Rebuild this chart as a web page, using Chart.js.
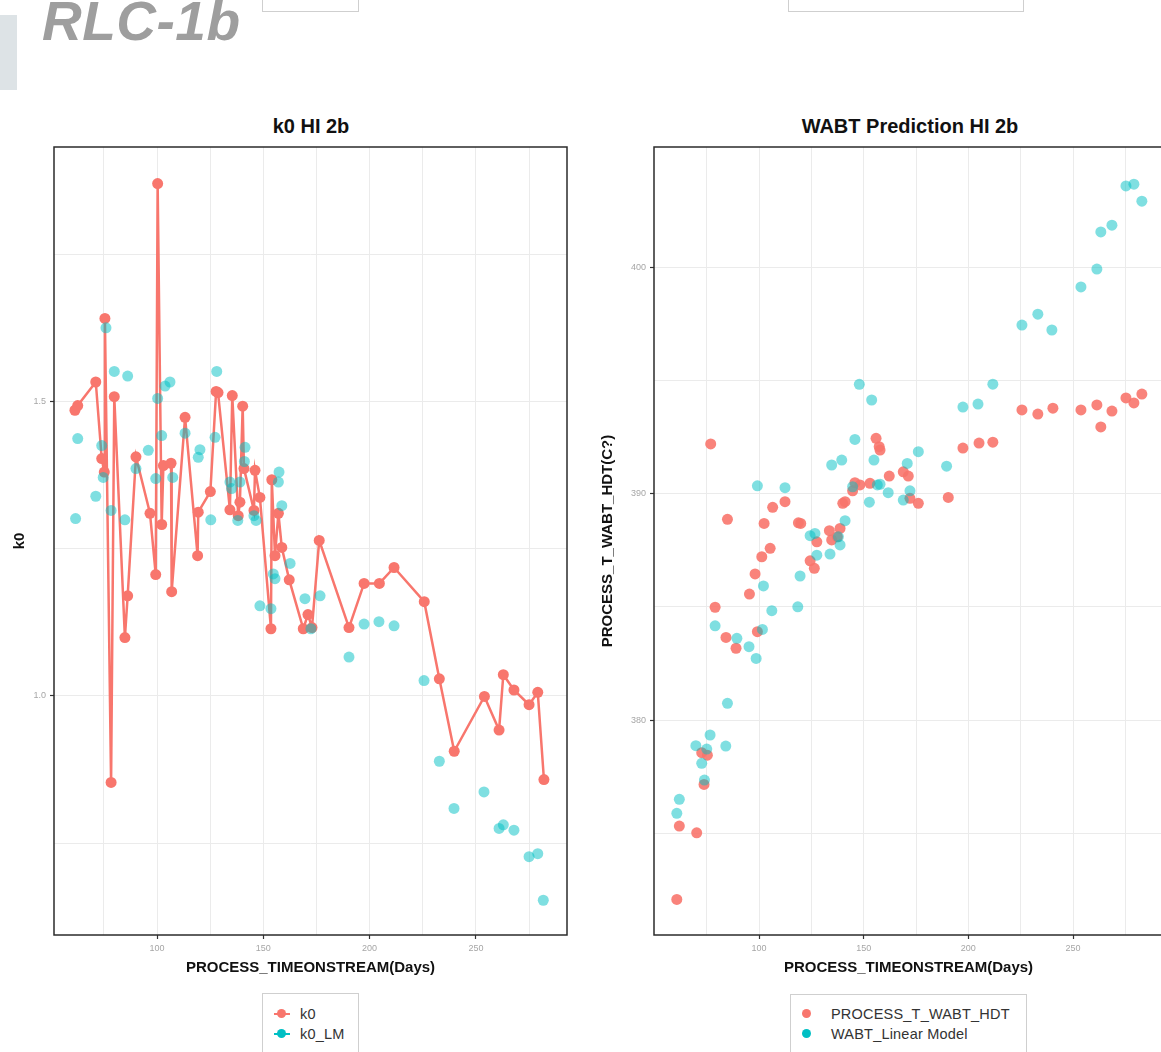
<!DOCTYPE html>
<html>
<head>
<meta charset="utf-8">
<script src="https://cdn.jsdelivr.net/npm/chart.js@4.4.0/dist/chart.umd.min.js"></script>
<style>
  html, body { margin: 0; padding: 0; background: #fff; overflow: hidden; width: 1161px; height: 1052px; }
  body { position: relative; font-family: "Liberation Sans", Arial, sans-serif; }
  .abs { position: absolute; }
  #head { left: 42px; top: -7px; font-size: 55px; line-height: 56px; font-weight: bold; font-style: italic; color: #9e9e9e; white-space: nowrap; letter-spacing: 0.5px; }
  #bar { left: 0; top: 15px; width: 17px; height: 75px; background: #dde3e6; }
  .box { border: 1px solid #cfcfcf; background: #fff; }
  .ttl { top: 115px; font-size: 20px; font-weight: bold; color: #111; text-align: center; white-space: nowrap; }
  .lg-text { font-size: 14.5px; color: #333; white-space: nowrap; line-height: 16px; letter-spacing: 0.2px; }
  .lg-line { height: 2px; width: 16px; }
  .lg-dot { width: 9px; height: 9px; border-radius: 50%; }
  canvas { position: absolute; }
</style>
</head>
<body>
<div id="bar" class="abs"></div>
<div id="head" class="abs">RLC-1b</div>
<div class="abs box" style="left:262px;top:-20px;width:95px;height:30px"></div>
<div class="abs box" style="left:788px;top:-20px;width:234px;height:30px"></div>

<div class="abs ttl" style="left:211px;width:200px">k0 HI 2b</div>
<div class="abs ttl" style="left:760px;width:300px">WABT Prediction HI 2b</div>

<canvas id="k0Chart" width="580" height="880" style="left:0;top:110px"></canvas>
<canvas id="wabtChart" width="590" height="880" style="left:590px;top:110px"></canvas>

<div class="abs box" style="left:262px;top:993px;width:95px;height:80px"></div>
<div class="abs lg-line" style="left:274px;top:1013px;background:#F8766D"></div>
<div class="abs lg-dot" style="left:277px;top:1009px;background:#F8766D"></div>
<div class="abs lg-text" style="left:300px;top:1006px">k0</div>
<div class="abs lg-line" style="left:274px;top:1033px;background:#00BFC4"></div>
<div class="abs lg-dot" style="left:277px;top:1029px;background:#00BFC4"></div>
<div class="abs lg-text" style="left:300px;top:1026px">k0_LM</div>

<div class="abs box" style="left:790px;top:994px;width:235px;height:80px"></div>
<div class="abs lg-dot" style="left:802px;top:1009px;background:#F8766D"></div>
<div class="abs lg-text" style="left:831px;top:1006px">PROCESS_T_WABT_HDT</div>
<div class="abs lg-dot" style="left:802px;top:1029px;background:#00BFC4"></div>
<div class="abs lg-text" style="left:831px;top:1026px">WABT_Linear Model</div>

<script>
// k0 HI 2b (red line)
const k0Days = [61.4, 62.7, 71.2, 74.0, 75.2, 75.5, 78.4, 79.9, 84.9, 86.2, 90.1, 96.7, 99.4, 100.3, 102.2, 103.0,
  106.6, 106.9, 113.2, 119.1, 119.4, 125.1, 127.8, 128.7, 134.3, 135.4, 138.2, 139.0, 140.3, 140.9, 145.6, 146.1,
  148.4, 153.6, 154.0, 155.5, 157.1, 158.7, 162.2, 168.8, 171.0, 172.9, 176.3, 190.3, 197.4, 204.6, 211.5, 225.7,
  232.8, 239.8, 254.0, 260.9, 262.9, 267.9, 275.0, 279.1, 282.0];
const k0Values = [1.485, 1.493, 1.533, 1.403, 1.380, 1.641, 0.853, 1.508, 1.099, 1.170, 1.406, 1.310, 1.206, 1.870, 1.291, 1.391,
  1.395, 1.177, 1.473, 1.238, 1.312, 1.347, 1.517, 1.515, 1.316, 1.510, 1.306, 1.329, 1.492, 1.386, 1.315, 1.383,
  1.337, 1.114, 1.367, 1.238, 1.310, 1.252, 1.197, 1.114, 1.138, 1.116, 1.264, 1.116, 1.191, 1.191, 1.218, 1.160,
  1.029, 0.906, 0.999, 0.942, 1.036, 1.010, 0.985, 1.006, 0.858];

// k0_LM (teal points)
const k0LmDays = [61.7, 62.7, 71.2, 74.0, 74.7, 76.0, 78.4, 79.9, 84.9, 86.2, 90.1, 95.9, 99.4, 100.3, 102.2, 103.8,
  106.1, 107.4, 113.2, 120.2, 119.4, 125.3, 127.3, 128.1, 134.3, 135.1, 138.0, 139.0, 141.4, 141.1, 145.6, 146.6,
  148.4, 153.6, 157.4, 157.1, 158.7, 154.7, 155.5, 162.6, 169.6, 172.4, 176.7, 190.3, 197.4, 204.4, 211.5, 225.6,
  232.8, 239.7, 253.8, 260.9, 262.9, 267.9, 275.0, 279.1, 281.7];
const k0LmValues = [1.301, 1.437, 1.339, 1.425, 1.371, 1.625, 1.315, 1.551, 1.299, 1.543, 1.386, 1.417, 1.369, 1.505, 1.442, 1.526,
  1.533, 1.371, 1.446, 1.418, 1.405, 1.299, 1.439, 1.551, 1.363, 1.352, 1.298, 1.363, 1.422, 1.398, 1.306, 1.298,
  1.153, 1.148, 1.380, 1.363, 1.323, 1.207, 1.199, 1.225, 1.165, 1.114, 1.170, 1.066, 1.122, 1.126, 1.119, 1.026,
  0.889, 0.809, 0.837, 0.775, 0.781, 0.772, 0.727, 0.732, 0.653];

// WABT Prediction HI 2b: measured (red)
const wabtDays = [60.7, 61.9, 70.2, 72.6, 75.3, 73.7, 76.9, 79.0, 84.2, 84.9, 89.0, 95.4, 98.1, 99.2, 101.3, 102.4,
  105.3, 106.5, 112.4, 118.8, 119.9, 124.4, 126.4, 127.6, 133.6, 134.7, 137.4, 138.7, 140.0, 141.1, 144.7, 145.8,
  148.2, 153.0, 155.9, 157.4, 157.8, 162.2, 168.9, 171.3, 172.1, 176.1, 190.4, 197.4, 205.1, 211.7, 225.6, 233.2,
  240.4, 253.8, 261.4, 263.3, 268.6, 275.3, 279.1, 282.9];
const wabtValues = [372.08, 375.32, 375.02, 378.56, 378.45, 377.16, 392.19, 384.98, 383.65, 388.86, 383.17, 385.56, 386.45, 383.90, 387.21, 388.68,
  387.58, 389.39, 389.64, 388.71, 388.68, 387.03, 386.70, 387.87, 388.36, 387.95, 388.09, 388.46, 389.57, 389.64, 390.12, 390.48,
  390.38, 390.45, 392.44, 392.07, 391.92, 390.77, 390.96, 390.77, 389.79, 389.57, 389.83, 392.01, 392.23, 392.27, 393.69, 393.51,
  393.77, 393.69, 393.91, 392.94, 393.64, 394.22, 394.00, 394.39];

// WABT_Linear Model (teal)
const wabtLmDays = [60.7, 61.9, 69.8, 72.6, 73.9, 75.0, 76.6, 79.0, 84.1, 84.9, 89.4, 95.2, 98.6, 99.2, 101.6, 102.1,
  106.1, 112.4, 118.5, 119.6, 124.4, 126.7, 127.6, 133.9, 137.9, 138.7, 141.1, 134.7, 139.5, 144.7, 145.8, 147.9,
  152.7, 153.8, 154.9, 156.5, 157.8, 161.7, 168.9, 170.8, 172.1, 176.1, 189.6, 197.4, 204.6, 211.7, 225.6, 233.2,
  239.9, 253.8, 261.4, 263.3, 268.6, 275.3, 279.1, 282.9];
const wabtLmValues = [375.88, 376.50, 378.87, 378.09, 377.35, 378.72, 379.34, 384.16, 378.85, 380.74, 383.61, 383.24, 382.72, 390.34, 384.00, 385.92,
  384.83, 390.26, 385.00, 386.36, 388.14, 388.24, 387.28, 387.33, 388.09, 387.73, 388.80, 391.26, 391.48, 390.30, 392.39, 394.82,
  389.62, 394.13, 391.48, 390.38, 390.41, 390.04, 389.71, 391.33, 390.12, 391.85, 391.21, 393.82, 393.95, 394.83, 397.44, 397.92,
  397.22, 399.12, 399.91, 401.55, 401.85, 403.58, 403.66, 402.91];

// ticks: gridlines at every value, labels only on the major ones
const dayTicks = [75, 100, 125, 150, 175, 200, 225, 250, 275];
const dayLabels = [100, 150, 200, 250];
const k0Ticks = [0.75, 1.0, 1.25, 1.5, 1.75];
const k0Labels = [1.0, 1.5];
const wabtTicks = [375, 380, 385, 390, 395, 400];
const wabtLabels = [380, 390, 400];

const FONT = "'Liberation Sans', Arial, sans-serif";
const RED = "#F8766D";
const TEAL = "rgba(0, 191, 196, 0.5)";

const pts = (xs, ys) => xs.map((x, i) => ({ x, y: ys[i] }));

// panel border like ggplot theme_bw
const framePlugin = {
  id: "frame",
  afterDatasetsDraw(chart) {
    const a = chart.chartArea;
    const ctx = chart.ctx;
    ctx.save();
    ctx.strokeStyle = "#2b2b2b";
    ctx.lineWidth = 1.5;
    ctx.strokeRect(a.left, a.top, a.right - a.left, a.bottom - a.top);
    ctx.restore();
  }
};

function scale(tickValues, labelValues, fmt, title, min, max, size, titlePad) {
  return {
    type: "linear",
    min: min,
    max: max,
    afterBuildTicks: s => { s.ticks = tickValues.map(v => ({ value: v })); },
    afterFit: s => { if (s.isHorizontal()) s.height = size; else s.width = size; },
    border: { display: false },
    grid: {
      color: "#ebebeb",
      lineWidth: 1,
      tickLength: 4,
      tickWidth: 1.2,
      tickColor: c => (c.tick && labelValues.includes(c.tick.value)) ? "#333" : "rgba(0,0,0,0)"
    },
    ticks: {
      autoSkip: false,
      maxRotation: 0,
      padding: 4,
      color: "#a6a6a6",
      font: { size: 9, family: FONT },
      callback: v => labelValues.includes(v) ? fmt(v) : ""
    },
    title: {
      display: true,
      text: title,
      color: "#111",
      font: { size: 15, weight: "bold", family: FONT },
      padding: titlePad
    }
  };
}

function baseOptions(xScale, yScale, padRight) {
  return {
    responsive: false,
    animation: false,
    layout: { padding: { left: 0, right: padRight, top: 37, bottom: 0 } },
    plugins: { legend: { display: false }, tooltip: { enabled: false } },
    scales: { x: xScale, y: yScale }
  };
}

new Chart(document.getElementById("k0Chart"), {
  type: "scatter",
  data: {
    datasets: [
      {
        label: "k0_LM",
        data: pts(k0LmDays, k0LmValues),
        backgroundColor: TEAL,
        borderWidth: 0,
        pointRadius: 5.5
      },
      {
        label: "k0",
        data: pts(k0Days, k0Values),
        showLine: true,
        borderColor: RED,
        borderWidth: 2.5,
        backgroundColor: RED,
        pointBorderWidth: 0,
        pointRadius: 5.5
      }
    ]
  },
  options: baseOptions(
    scale(dayTicks, dayLabels, v => String(v), "PROCESS_TIMEONSTREAM(Days)", 51.55, 292.85, 55, { bottom: 13 }),
    scale(k0Ticks, k0Labels, v => v.toFixed(1), "k0", 0.594, 1.932, 54, { top: 11 }),
    13
  ),
  plugins: [framePlugin]
});

new Chart(document.getElementById("wabtChart"), {
  type: "scatter",
  data: {
    datasets: [
      {
        label: "WABT_Linear Model",
        data: pts(wabtLmDays, wabtLmValues),
        backgroundColor: TEAL,
        borderWidth: 0,
        pointRadius: 5.5
      },
      {
        label: "PROCESS_T_WABT_HDT",
        data: pts(wabtDays, wabtValues),
        backgroundColor: "rgba(248, 118, 109, 0.9)",
        borderWidth: 0,
        pointRadius: 5.5
      }
    ]
  },
  options: baseOptions(
    scale(dayTicks, dayLabels, v => String(v), "PROCESS_TIMEONSTREAM(Days)", 49.8, 293.0, 55, { bottom: 13 }),
    scale(wabtTicks, wabtLabels, v => String(v), "PROCESS_T_WABT_HDT(C?)", 370.51, 405.30, 64, { top: 9 }),
    17
  ),
  plugins: [framePlugin]
});
</script>
</body>
</html>
